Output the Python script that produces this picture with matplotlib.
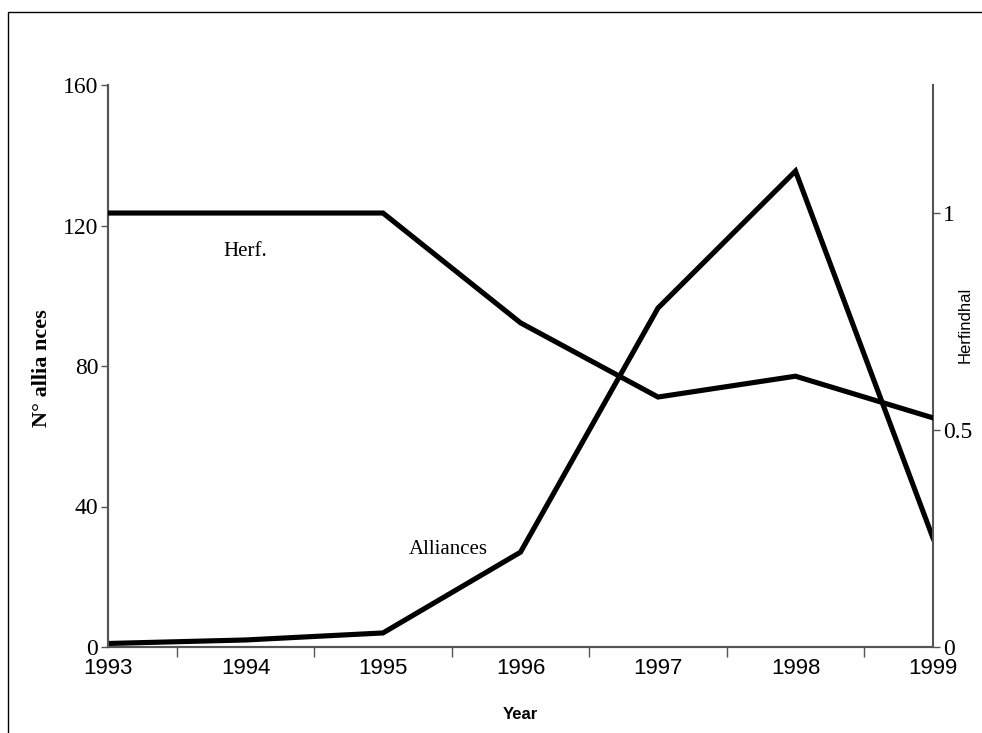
"""Alliances vs. Herfindahl index, 1993-1999."""

import matplotlib

matplotlib.use("Agg")
import matplotlib.pyplot as plt
import matplotlib.patches as mpatches

YEARS = [1993, 1994, 1995, 1996, 1997, 1998, 1999]
ALLIANCES = [1, 2, 4, 27, 96.5, 135.5, 31]
HERF = [1.0, 1.0, 1.0, 0.747, 0.576, 0.624, 0.528]

LEFT_TICKS = [0, 40, 80, 120, 160]
RIGHT_TICKS = [0, 0.5, 1]
RIGHT_TICK_LABELS = ["0", "0.5", "1"]

SERIF = "Liberation Serif"
SANS = "Liberation Sans"
SPINE = "#555555"

fig = plt.figure(figsize=(9.82, 7.33), dpi=100)
ax = fig.add_axes([108 / 982, 1 - 647 / 733, (933 - 108) / 982, (647 - 85) / 733])
ax2 = ax.twinx()

ax.plot(YEARS, ALLIANCES, color="black", lw=3.7, solid_joinstyle="miter", zorder=3)
ax2.plot(YEARS, HERF, color="black", lw=3.7, solid_joinstyle="miter", zorder=3)

ax.set_xlim(1993, 1999)
ax.set_ylim(0, 160)
ax2.set_ylim(0, 1.295)

# category-style x axis: labels at the years, tick marks between them
ax.set_xticks([y + 0.5 for y in YEARS[:-1]])
ax.set_xticklabels([])
ax.set_xticks(YEARS, minor=True)
ax.set_xticklabels([str(y) for y in YEARS], minor=True, fontfamily=SANS, fontsize=16)
ax.tick_params(axis="x", which="major", direction="out", length=7, width=1, color=SPINE)
ax.tick_params(axis="x", which="minor", length=0, pad=8)

ax.set_yticks(LEFT_TICKS)
ax.set_yticklabels([str(v) for v in LEFT_TICKS], fontfamily=SERIF, fontsize=17)
ax.tick_params(axis="y", direction="out", length=5, width=1, color=SPINE, pad=2)

ax2.set_yticks(RIGHT_TICKS)
ax2.set_yticklabels(RIGHT_TICK_LABELS, fontfamily=SERIF, fontsize=17)
ax2.tick_params(axis="y", direction="out", length=5, width=1, color=SPINE, pad=2)

for a in (ax, ax2):
    a.spines["top"].set_visible(False)
    for side in ("left", "right", "bottom"):
        a.spines[side].set_color(SPINE)
        a.spines[side].set_linewidth(1.5)
ax.spines["right"].set_visible(False)

ax.set_xlabel("Year", fontfamily=SANS, fontsize=12, fontweight="bold", labelpad=20)
fig.text(42 / 982, 1 - 368 / 733, "N° allia nces", rotation=90, ha="center", va="center",
         fontfamily=SERIF, fontsize=16, fontweight="bold")
fig.text(965 / 982, 1 - 325 / 733, "Herfindhal", rotation=90, ha="center", va="center",
         fontfamily=SANS, fontsize=12)

ax.annotate("Herf.", xy=(245 / 982, 1 - 252 / 733), xycoords="figure fraction",
            ha="center", va="center", fontfamily=SERIF, fontsize=15)
ax.annotate("Alliances", xy=(448 / 982, 1 - 550 / 733), xycoords="figure fraction",
            ha="center", va="center", fontfamily=SERIF, fontsize=15)

# thin frame round the whole picture
fig.patches.append(mpatches.Rectangle((8 / 982, -0.01), 1.0, 1 - 12 / 733 + 0.01,
                                      transform=fig.transFigure, fill=False,
                                      edgecolor="black", lw=1))

fig.savefig("out.png", dpi=100)
